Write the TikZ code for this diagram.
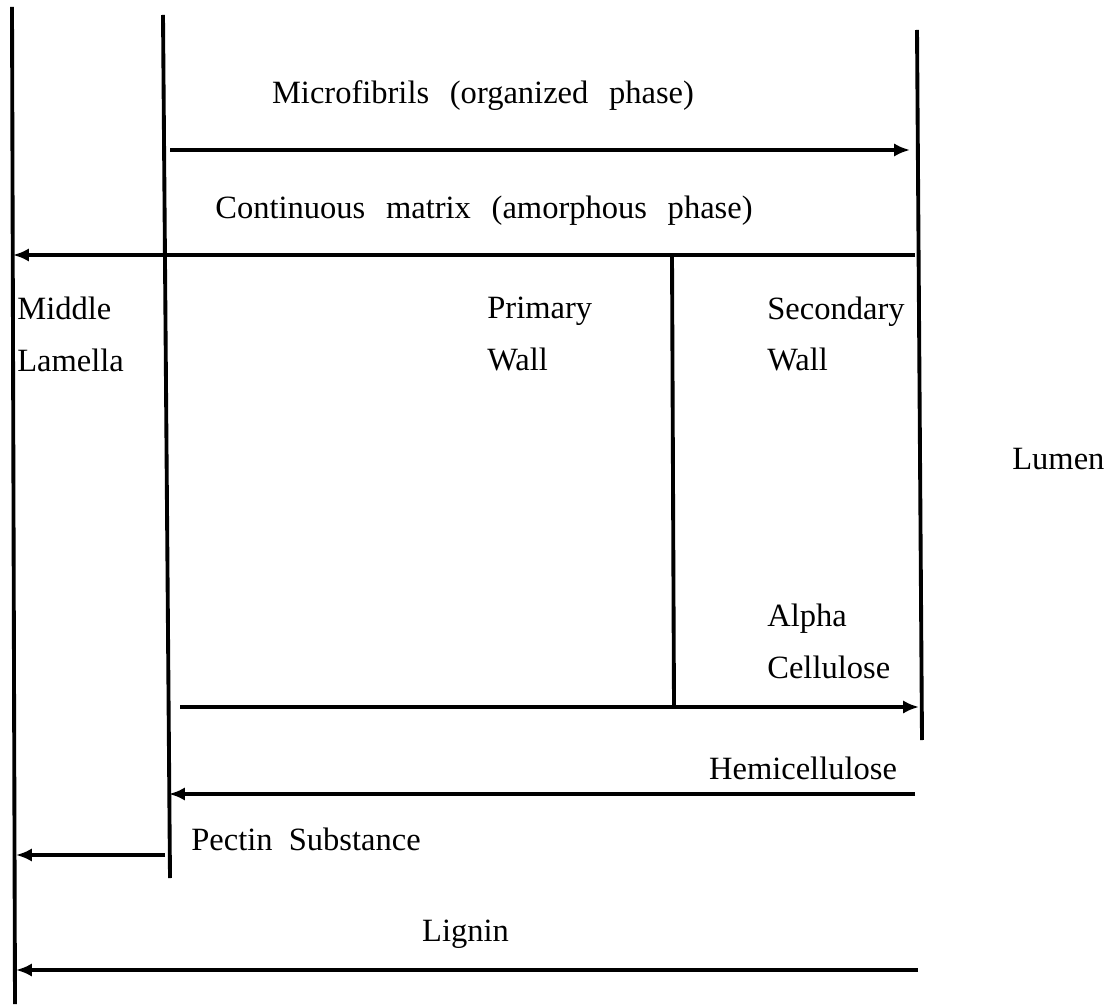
\documentclass[tikz,border=0pt]{standalone}
\usepackage{fontspec}
\setmainfont{Liberation Serif}
\usetikzlibrary{arrows.meta}
\newcommand\widewords{\spaceskip=11.8pt\relax}

\begin{document}
\begin{tikzpicture}[
    wall/.style={line width=2.2pt},
    flow/.style={line width=2.2pt, -{Latex[length=9pt,width=7.5pt]}},
    lbl/.style={font=\fontsize{18.5}{29.5}\selectfont, inner sep=0pt, align=left},
    widelbl/.style={lbl, font=\fontsize{18.5}{29.5}\selectfont\widewords}
  ]
  \useasboundingbox (0,0) rectangle (22.12,20.08);

  % Layer boundaries
  \draw[wall] (0.24,19.94) -- (0.30,0);
  \draw[wall] (3.26,19.78) -- (3.40,2.52);
  \draw[wall] (18.34,19.48) -- (18.44,5.28);
  \draw[wall] (13.44,14.96) -- (13.48,5.94);

  % Phases
  \node[widelbl] (micro) at (9.66,18.16) {Microfibrils (organized phase)};
  \draw[flow] (3.40,17.08) -- (18.20,17.08);

  \node[widelbl] (matrix) at (9.68,15.86) {Continuous matrix (amorphous phase)};
  \draw[flow] (18.30,14.98) -- (0.26,14.98);

  % Regions
  \node[lbl, anchor=west] (middle) at (0.34,13.40) {Middle\\Lamella};
  \node[lbl, anchor=west] (primary) at (9.74,13.40) {Primary\\Wall};
  \node[lbl, anchor=west] (secondary) at (15.34,13.40) {Secondary\\Wall};
  \node[lbl, anchor=west] (lumen) at (20.24,10.90) {Lumen};

  % Components
  \node[lbl, anchor=west] (alpha) at (15.34,7.26) {Alpha\\Cellulose};
  \draw[flow] (3.60,5.94) -- (18.38,5.94);

  \node[lbl] (hemi) at (16.06,4.72) {Hemicellulose};
  \draw[flow] (18.30,4.20) -- (3.38,4.20);

  \node[lbl, anchor=west] (pectin) at (3.82,3.30) {Pectin\ \ Substance};
  \draw[flow] (3.30,2.98) -- (0.32,2.98);

  \node[lbl] (lignin) at (9.31,1.40) {Lignin};
  \draw[flow] (18.36,0.68) -- (0.32,0.68);
\end{tikzpicture}
\end{document}
